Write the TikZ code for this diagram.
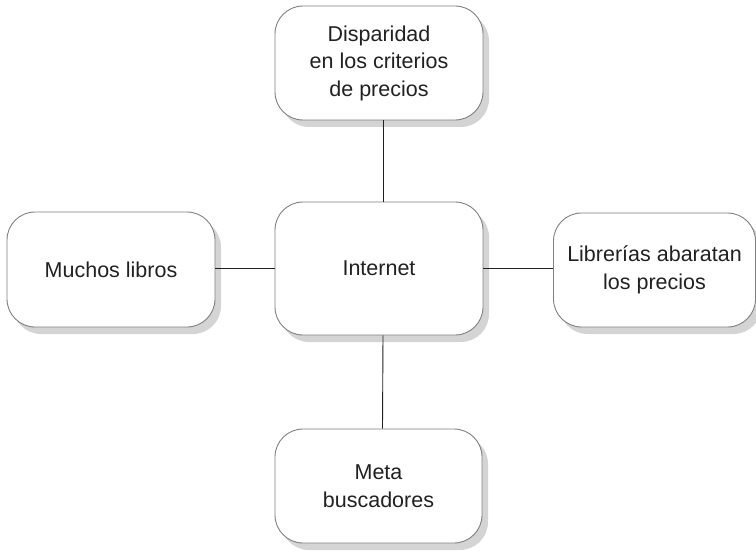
\documentclass[tikz,border=0pt]{standalone}
\usepackage{fontspec}
\setmainfont{Liberation Sans}
\usetikzlibrary{shadows}
\definecolor{boxline}{gray}{0.5}
\definecolor{shadowgray}{gray}{0.83}
\definecolor{txt}{gray}{0.13}
\tikzset{
  box/.style={rectangle, rounded corners=28pt, draw=boxline, line width=0.9pt,
    fill=white, align=center, text=txt, inner sep=0pt,
    font=\fontsize{21.5}{27.5}\selectfont,
    drop shadow={shadow xshift=6pt, shadow yshift=-7pt, fill=shadowgray, opacity=1}},
  link/.style={draw=txt, line width=0.9pt}
}
\begin{document}
\begin{tikzpicture}[x=1pt,y=-1pt]
\useasboundingbox (0,0) rectangle (756,551);
\begin{scope}
\clip (0,0) rectangle (756,551);
\node[box, minimum width=208pt, minimum height=114pt] (top) at (379,63) {Disparidad\\en los criterios\\de precios};
\node[box, minimum width=208pt, minimum height=133pt] (c) at (379,268.5) {Internet};
\node[box, minimum width=208pt, minimum height=115pt] (l) at (111,269.5) {Muchos libros};
\node[box, minimum width=202pt, minimum height=114pt] (r) at (654.5,270) {Librerías abaratan\\los precios};
\node[box, minimum width=207pt, minimum height=114pt] (b) at (378.5,486) {Meta\\buscadores};
\end{scope}
\draw[link] ([xshift=4pt]top.south) -- ([xshift=4pt]c.north);
\draw[link] ([xshift=4pt]c.south) -- ([xshift=4pt]b.north);
\draw[link] (c.west -| l.east) -- (c.west);
\draw[link] (c.east) -- (c.east -| r.west);
\end{tikzpicture}
\end{document}
